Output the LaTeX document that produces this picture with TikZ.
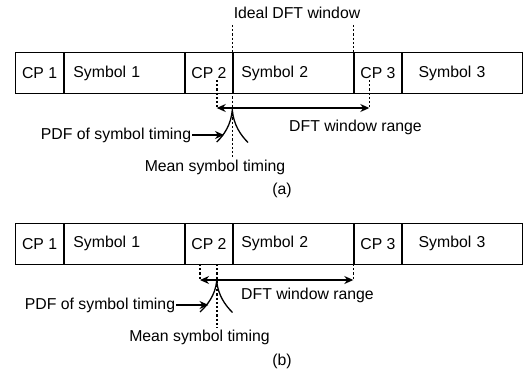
\documentclass[tikz,border=0pt]{standalone}
\usepackage{fontspec}
\setmainfont{Liberation Sans}
\usepackage{tikz}
\usetikzlibrary{arrows.meta}

\tikzset{
  cell/.style={draw, line width=1.3pt, minimum height=41, inner sep=0pt, anchor=west},
  symcell/.style={cell, minimum width=121, text width=#1, align=left},
  cpcell/.style={cell, minimum width=48},
  lbl/.style={inner sep=1pt},
  guide/.style={line width=1.6pt, dash pattern=on 2.2pt off 2pt},
  winrange/.style={line width=1.3pt, {Stealth[length=9pt,width=8pt]}-{Stealth[length=9pt,width=8pt]}},
  pointer/.style={line width=1.3pt, -{Stealth[length=9pt,width=8pt]}},
  pdfcurve/.style={line width=1.3pt}
}

\begin{document}
\begin{tikzpicture}[x=1pt,y=-1pt,font=\fontsize{15.8}{18}\selectfont]
  \useasboundingbox (0,0) rectangle (526,374);

  % the two symbol rows
  \foreach \p/\y in {a/73.3, b/243.7} {
    \node[cpcell] (cp1\p) at (15,\y) {CP 1};
    \node[symcell=102] (sym1\p) at (63.3,\y) {Symbol 1};
    \node[cpcell] (cp2\p) at (184.3,\y) {CP 2};
    \node[symcell=104] (sym2\p) at (232.3,\y) {Symbol 2};
    \node[cpcell] (cp3\p) at (353.3,\y) {CP 3};
    \node[symcell=87] (sym3\p) at (401,\y) {Symbol 3};
  }

  % (a) timing inside the cyclic prefix
  \node[lbl] (ideal) at (297,13) {Ideal DFT window};
  \node[lbl] (rangea) at (355.5,127) {DFT window range};
  \node[lbl] (pdfa) at (116,135) {PDF of symbol timing};
  \node[lbl] (meana) at (215,167.5) {Mean symbol timing};
  \node[lbl] (capa) at (282,190) {(a)};

  \coordinate (idl) at (232.3,25);
  \coordinate (idr) at (353.3,25);
  \draw[guide] (idl) -- (idl |- meana.north);
  \draw[guide] (idr) -- (idr |- sym2a.north);

  \coordinate (ra1) at (216.7,80);
  \coordinate (ra2) at (369.3,80);
  \draw[guide] (ra1) -- ++(0,28) coordinate (la);
  \draw[guide] (ra2) -- ++(0,28) coordinate (ea);
  \draw[winrange] (la) -- (ea);

  \coordinate (peaka) at (232.3,110);
  \draw[pdfcurve] (216.7,142) .. controls (224,135) and (231,125) .. (peaka)
             .. controls (233.6,125) and (240.6,135) .. (248,142.5);
  \coordinate (hita) at (224,135);
  \draw[pointer] (pdfa.east) -- (hita);

  % (b) timing shifted to the left
  \node[lbl] (rangeb) at (307.5,295) {DFT window range};
  \node[lbl] (pdfb) at (100,305) {PDF of symbol timing};
  \node[lbl] (meanb) at (199.5,337) {Mean symbol timing};
  \node[lbl] (capb) at (282,361.5) {(b)};

  \coordinate (rb1) at (200,264);
  \coordinate (rbm) at (216.7,264);
  \coordinate (rb2) at (353.3,264);
  \draw[guide] (rb1) -- ++(0,16) coordinate (lb);
  \draw[guide] (rb2) -- ++(0,16) coordinate (eb);
  \draw[guide] (rbm) -- (rbm |- meanb.north);
  \draw[winrange] (lb) -- (eb);

  \coordinate (peakb) at (216.7,281);
  \draw[pdfcurve] (200,312) .. controls (207.5,305) and (215.3,295) .. (peakb)
             .. controls (218,295) and (225,305) .. (232.5,312.5);
  \coordinate (hitb) at (208.5,305);
  \draw[pointer] (pdfb.east) -- (hitb);
\end{tikzpicture}
\end{document}
